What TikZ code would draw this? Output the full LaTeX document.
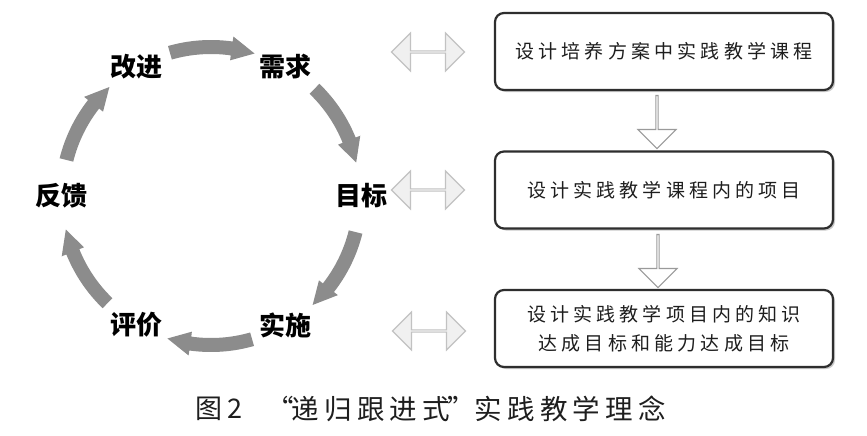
\documentclass[tikz,border=0pt]{standalone}
\usepackage{fontspec}
\usetikzlibrary{calc,shapes.arrows,shadows}
\newfontfamily\cjk{Noto Sans CJK SC}
\newfontfamily\cjkbox{Noto Sans CJK SC}[LetterSpace=22]
\newfontfamily\cjkcap{Noto Sans CJK SC}[LetterSpace=19]
\definecolor{cyc}{HTML}{8C8C8C}
\definecolor{dborder}{HTML}{C2C2C2}
\definecolor{dfill}{HTML}{F0F0F0}
\definecolor{sborder}{HTML}{9A9A9A}
\definecolor{boxline}{HTML}{2E2E2E}
\definecolor{txt}{HTML}{1E1E1E}
\tikzset{
  lab/.style={font=\cjk\bfseries\fontsize{26pt}{28pt}\selectfont, text=black, inner sep=0pt},
  stagebox/.style={draw=boxline, line width=2.2pt, rounded corners=9pt, fill=white,
    minimum width=338pt, minimum height=77pt, inner sep=0pt, align=center,
    text=txt, font=\cjkbox\fontsize{19pt}{29pt}\selectfont,
    drop shadow={shadow xshift=2pt, shadow yshift=-2pt, fill=gray!70, opacity=0.6}},
  dblarrow/.style={double arrow, draw=dborder, fill=dfill, line width=1.1pt,
    minimum width=38pt, minimum height=73pt, double arrow head extend=9pt,
    inner sep=0pt, double arrow tip angle=90},
  downarrow/.style={single arrow, draw=sborder, fill=white, line width=1.1pt,
    minimum width=38pt, minimum height=53pt, single arrow head extend=9pt,
    inner sep=0pt, single arrow tip angle=90, rotate=-90},
}
\begin{document}
\begin{tikzpicture}[x=1pt,y=1pt]
\fill[white] (0,0) rectangle (867,-436);
\useasboundingbox (0,0) rectangle (867,-436);
\coordinate (C) at (211,-196);
% cycle labels
\node[lab] (l1) at ($(C)+(120:149pt)$) {改进};
\node[lab] (l2) at ($(C)+(60:149pt)$) {需求};
\node[lab] (l3) at ($(C)+(0:150pt)$) {目标};
\node[lab] (l4) at ($(C)+(-60:149pt)$) {实施};
\node[lab] (l5) at ($(C)+(-120:149pt)$) {评价};
\node[lab] (l6) at ($(C)+(180:150pt)$) {反馈};
% cycle arrows
\foreach \m in {90,30,-30,-90,-150,150}{
  \pgfmathsetmacro\aa{\m+16}
  \pgfmathsetmacro\ah{\m-8}
  \pgfmathsetmacro\ab{\m-17}
  \fill[cyc] ($(C)+(\aa:156pt)$) arc[start angle=\aa, end angle=\ah, radius=156pt]
    -- ($(C)+(\ah:161pt)$) -- ($(C)+(\ab:149pt)$) -- ($(C)+(\ah:137pt)$)
    -- ($(C)+(\ah:142pt)$) arc[start angle=\ah, end angle=\aa, radius=142pt] -- cycle;
}
% boxes
\node[stagebox] (b1) at (664,-51.5) {设计培养方案中实践教学课程};
\node[stagebox] (b2) at (664,-190) {设计实践教学课程内的项目};
\node[stagebox] (b3) at (664,-328.5) {设计实践教学项目内的知识\\达成目标和能力达成目标};
% double arrows
\node[dblarrow] (d1) at (428,-52) {};
\node[dblarrow] (d2) at (428,-190) {};
\node[dblarrow] (d3) at (429,-331) {};
% down arrows
\node[downarrow] (s1) at (657,-121.5) {};
\node[downarrow] (s2) at (658,-260.5) {};
% caption
\node[font=\cjk\fontsize{27pt}{29pt}\selectfont, text=txt, inner sep=0pt] (c1) at (219,-409) {图\,2};
\node[font=\cjkcap\fontsize{27.5pt}{29pt}\selectfont, text=txt, inner sep=0pt, anchor=west] (c2) at (266,-409) {“\kern-2pt 递归跟进式\kern-3pt ”\kern0pt 实践教学理念};
\end{tikzpicture}
\end{document}
